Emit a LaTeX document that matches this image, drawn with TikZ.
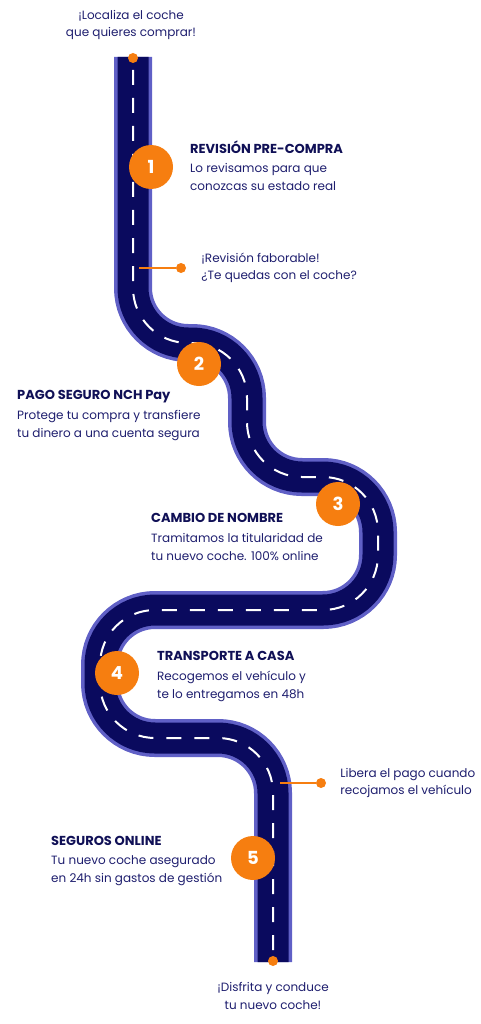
\documentclass[tikz,border=0pt]{standalone}
\usepackage{fontspec}
\setmainfont{Poppins}
\definecolor{roadNavy}{RGB}{10, 10, 94}
\definecolor{roadEdge}{RGB}{96, 96, 198}
\definecolor{stepOrange}{RGB}{246, 126, 16}
\definecolor{inkNavy}{RGB}{30, 30, 110}
\definecolor{titleNavy}{RGB}{16, 16, 86}
\usetikzlibrary{positioning}

\begin{document}
\begin{tikzpicture}[
      x=1pt, y=-1pt,
      road/.style={
        draw=roadEdge, line width=38pt, rounded corners=55pt,
        postaction={draw=roadNavy, line width=31pt},
        postaction={draw=white, line width=2pt,
          dash pattern=on 15pt off 13pt, dash phase=15pt}
      },
      stepnum/.style={circle, fill=stepOrange, minimum size=44pt, inner sep=0pt,
        text=white, font=\fontsize{18}{18}\selectfont\bfseries},
      steptitle/.style={anchor=west, inner sep=0pt, text depth=0pt,
        text=titleNavy, font=\fontsize{13}{18}\selectfont\bfseries},
      steptext/.style={inner sep=0pt, align=left,
        text=inkNavy, font=\fontsize{12}{18}\selectfont},
      note/.style={inner sep=0pt, align=left, text=inkNavy,
        font=\fontsize{12}{17.5}\selectfont},
      endnote/.style={note, align=center},
      dot/.style={circle, fill=stepOrange, minimum size=10pt, inner sep=0pt},
      callout/.style={draw=stepOrange, line width=2pt},
    ]
      \useasboundingbox (0,0) rectangle (480,1024);

      % the road
      \draw[road] (133,57) -- (133,343) -- (247,343) -- (247,477) -- (378,477)
        -- (378,610) -- (100,610) -- (100,738) -- (273,738) -- (273,962);

      % start and finish
      \node[dot] (start) at (133,58) {};
      \node[dot] (finish) at (273,961) {};
      \node[endnote] (startnote) at (131,25) {¡Localiza el coche\\que quieres comprar!};
      \node[endnote] (finishnote) at (273,996) {¡Disfrita y conduce\\tu nuevo coche!};

      % steps
      \node[stepnum] (s1) at (151,167) {1};
      \node[stepnum] (s2) at (199,364) {2};
      \node[stepnum] (s3) at (338,504) {3};
      \node[stepnum] (s4) at (117,673) {4};
      \node[stepnum] (s5) at (253,858) {5};

      \node[steptitle] (h1) at (190,147) {REVISIÓN PRE-COMPRA};
      \node[steptext, below=10pt of h1.south west, anchor=north west] (t1)
        {Lo revisamos para que\\conozcas su estado real};
      \node[steptitle] (h2) at (17,395) {PAGO SEGURO NCH Pay};
      \node[steptext, below=10pt of h2.south west, anchor=north west] (t2)
        {Protege tu compra y transfiere\\tu dinero a una cuenta segura};
      \node[steptitle] (h3) at (151,518) {CAMBIO DE NOMBRE};
      \node[steptext, below=10pt of h3.south west, anchor=north west] (t3)
        {Tramitamos la titularidad de\\tu nuevo coche. 100\% online};
      \node[steptitle] (h4) at (157,656) {TRANSPORTE A CASA};
      \node[steptext, below=10pt of h4.south west, anchor=north west] (t4)
        {Recogemos el vehículo y\\te lo entregamos en 48h};
      \node[steptitle] (h5) at (51,841) {SEGUROS ONLINE};
      \node[steptext, below=10pt of h5.south west, anchor=north west] (t5)
        {Tu nuevo coche asegurado\\en 24h sin gastos de gestión};

      % callouts
      \coordinate (r1) at (139,268);
      \node[dot] (d1) at (181,268) {};
      \draw[callout] (r1) -- (d1);
      \node[note, right=15pt of d1] (n1) {¡Revisión faborable!\\¿Te quedas con el coche?};

      \coordinate (r2) at (280,783);
      \node[dot] (d2) at (321,783) {};
      \draw[callout] (r2) -- (d2);
      \node[note, right=14pt of d2] (n2) {Libera el pago cuando\\recojamos el vehículo};
    \end{tikzpicture}
\end{document}
